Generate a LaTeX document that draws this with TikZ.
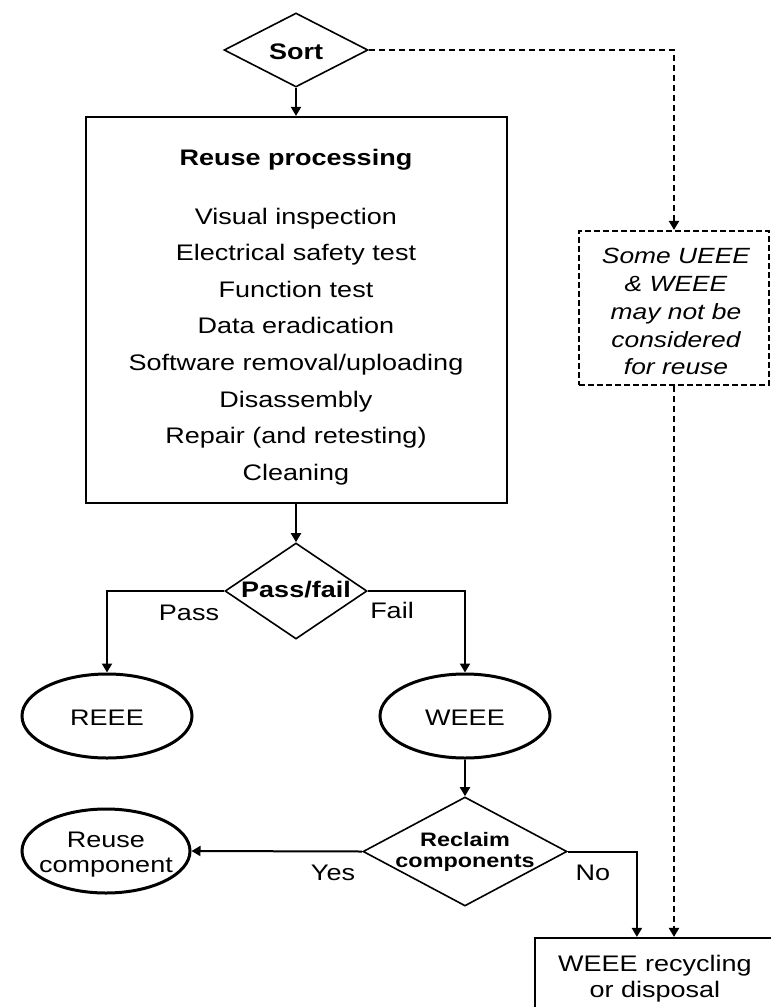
\documentclass[tikz,border=0pt]{standalone}
\usepackage{fontspec}
\setmainfont[FakeStretch=1.2]{Liberation Sans}
\usetikzlibrary{shapes.geometric,arrows.meta,calc}
\begin{document}
\begin{tikzpicture}[x=1pt,y=-1pt,
  font=\fontsize{22.5}{27}\selectfont,
  conn/.style={line width=2pt,-{Triangle[length=9pt,width=10pt]}},
  dconn/.style={conn,line width=2.2pt,dash pattern=on 6pt off 4pt},
  procbox/.style={draw,rectangle,line width=2.2pt,inner sep=0pt},
  dbox/.style={draw,rectangle,line width=2.2pt,inner sep=0pt,dash pattern=on 6pt off 3pt},
  dia/.style={draw,diamond,line width=1.6pt,inner sep=0pt},
  ell/.style={draw,ellipse,line width=3pt,inner sep=0pt},
  txt/.style={anchor=base,inner sep=0pt},
  btxt/.style={txt,font=\fontsize{22.5}{27}\selectfont\bfseries},
  itxt/.style={txt,font=\fontsize{22}{27}\selectfont\itshape}
]
\useasboundingbox (0,0) rectangle (771,1007);
\clip (0,0) rectangle (771,1007);

% Sort
\node[dia,minimum width=144pt,minimum height=74pt] (sort) at (296,50) {};
\node[btxt] (sortt) at (296,59) {Sort};

% Reuse processing box
\node[procbox,minimum width=421pt,minimum height=386pt] (rp) at (296.5,310) {};
\node[btxt] (t0) at (296,165) {Reuse processing};
\node[txt] (t1) at (296,224) {Visual inspection};
\node[txt] (t2) at (296,260.6) {Electrical safety test};
\node[txt] (t3) at (296,297.2) {Function test};
\node[txt] (t4) at (296,333.8) {Data eradication};
\node[txt] (t5) at (296,370.4) {Software removal/uploading};
\node[txt] (t6) at (296,407) {Disassembly};
\node[txt] (t7) at (296,443.6) {Repair (and retesting)};
\node[txt] (t8) at (296,480.2) {Cleaning};

% Pass/fail
\node[dia,minimum width=142pt,minimum height=96pt] (pf) at (296,591) {};
\node[btxt] (pft) at (296,597) {Pass/fail};
\node[txt] (pass) at (189,620) {Pass};
\node[txt] (fail) at (392,618) {Fail};

% REEE / WEEE
\node[ell,minimum width=170pt,minimum height=84pt] (reee) at (107,716) {};
\node[txt] (reeet) at (107,725) {REEE};
\node[ell,minimum width=170pt,minimum height=84pt] (weee) at (465,716) {};
\node[txt] (weeet) at (465,725) {WEEE};

% Reclaim components
\node[dia,minimum width=204pt,minimum height=109pt] (rc) at (465,851.5) {};
\node[txt,font=\fontsize{19.5}{21}\selectfont\bfseries] (rct1) at (465,846) {Reclaim};
\node[txt,font=\fontsize{19.5}{21}\selectfont\bfseries] (rct2) at (465,867) {components};
\node[txt] (yes) at (333,880) {Yes};
\node[txt] (no) at (593,880) {No};

% Reuse component
\node[ell,minimum width=168pt,minimum height=84pt] (ruc) at (106,851) {};
\node[txt] (ruct1) at (106,847) {Reuse};
\node[txt] (ruct2) at (106,872) {component};

% Dashed box
\node[dbox,minimum width=190pt,minimum height=154pt] (ueee) at (674,308) {};
\node[itxt] (u1) at (676,263) {Some UEEE};
\node[itxt] (u2) at (676,291) {\&~WEEE};
\node[itxt] (u3) at (676,319) {may not be};
\node[itxt] (u4) at (676,347) {considered};
\node[itxt] (u5) at (676,374) {for reuse};

% WEEE recycling box (cut by page edges)
\node[procbox,minimum width=240pt,minimum height=120pt] (rec) at (655,998) {};
\node[txt] (r1) at (655,971) {WEEE recycling};
\node[txt] (r2) at (655,997) {or disposal};
\coordinate (recin) at ($(rec.north west)+(103,0)$);

% Connectors
\draw[conn] (sort.south) -- (sort.south |- rp.north);
\draw[conn] (rp.south -| pf.north) -- (pf.north);
\draw[conn] (pf.west) -| (reee.north);
\draw[conn] (pf.east) -| (weee.north);
\draw[conn] (weee.south) -- (rc.north);
\draw[conn] (rc.west) -- (ruc.east);
\draw[conn] (rc.east) -| (recin);
\draw[dconn] (sort.east) -| (ueee.north);
\draw[dconn] (ueee.south) -- (ueee.south |- rec.north);
\end{tikzpicture}
\end{document}
